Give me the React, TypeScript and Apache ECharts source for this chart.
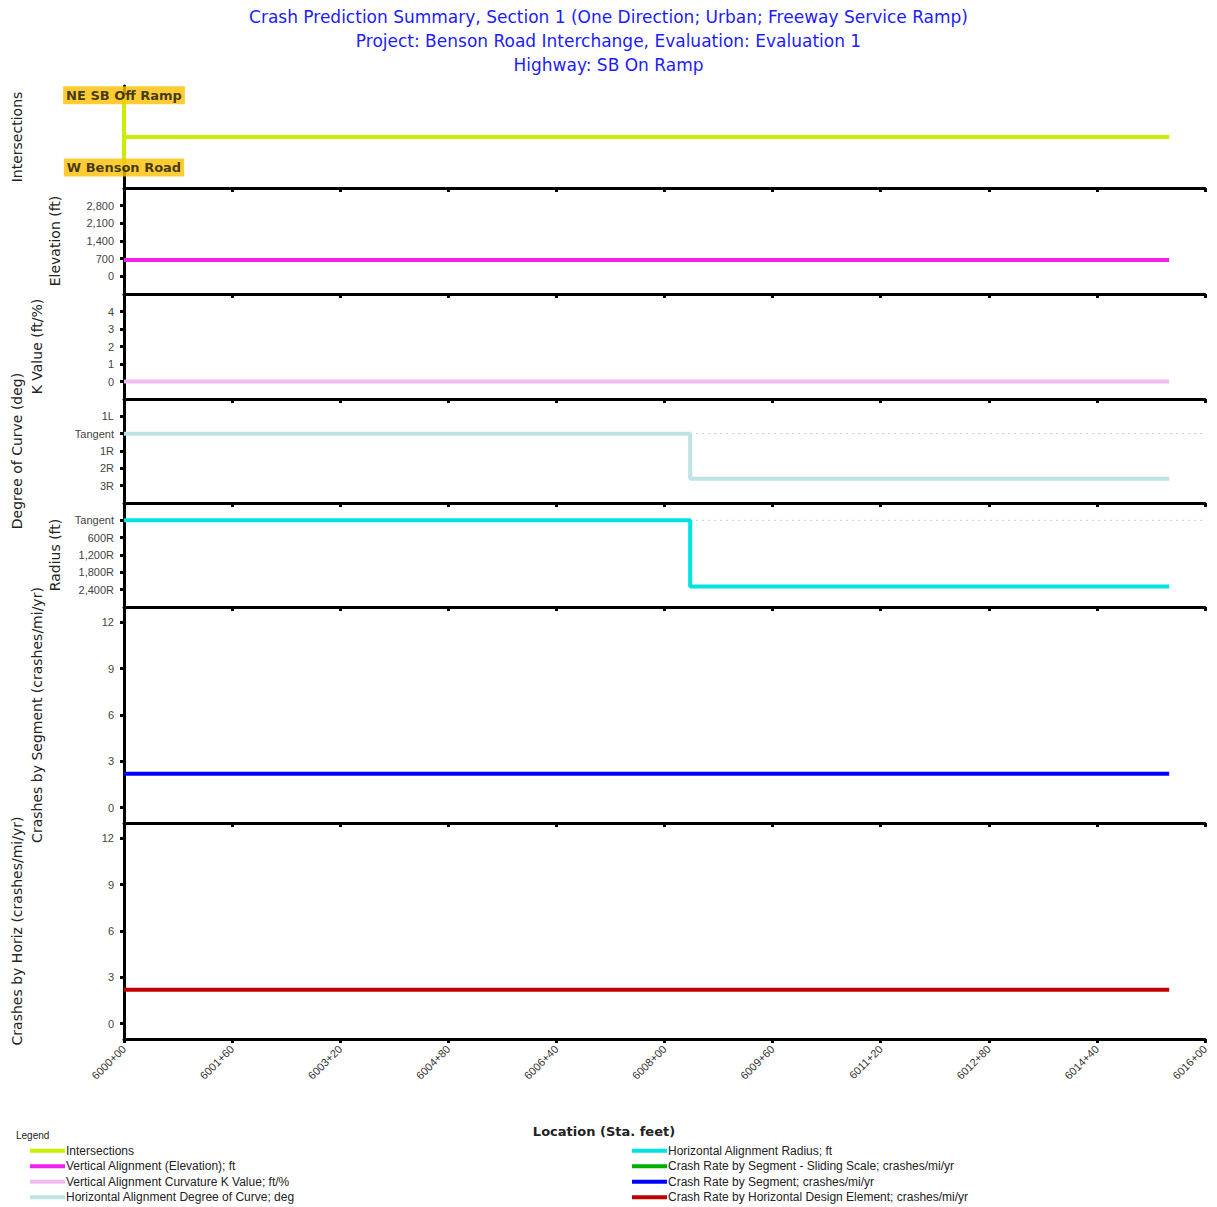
import React, { useEffect, useRef } from "react";
import * as echarts from "echarts";

// ---------- data ----------
const titleLines = [
  "Crash Prediction Summary, Section 1 (One Direction; Urban; Freeway Service Ramp)",
  "Project: Benson Road Interchange, Evaluation: Evaluation 1",
  "Highway: SB On Ramp",
];
const stationLabels = [
  "6000+00", "6001+60", "6003+20", "6004+80", "6006+40", "6008+00",
  "6009+60", "6011+20", "6012+80", "6014+40", "6016+00",
];
const xMax = 1600;
const xStep = 160;

const intersectionNames = ["NE SB Off Ramp", "W Benson Road"];
const intersectionLabelY = [0.91, 0.2];
const intersectionX = [0, 1547];
const intersectionLevel = [0.5, 0.5];

const alignX = [0, 1547];
const elevationFt = [650, 650];
const kValue = [0, 0];

const curveX = [0, 838, 838, 1547];
const degreeOfCurve = [0, 0, -2.6, -2.6]; // + = Left, - = Right
const radiusFt = [0, 0, 2290, 2290]; // 0 = Tangent
const tangentRefX = [838, 1600];

const crashSegX = [0, 1547];
const crashBySegment = [2.2, 2.2];
const crashSlidingScale: number[] = [];
const crashByHoriz = [2.2, 2.2];

const elevTicks = [0, 700, 1400, 2100, 2800];
const kTicks = [0, 1, 2, 3, 4];
const degTicks = [1, 0, -1, -2, -3];
const radTicks = [0, 600, 1200, 1800, 2400];
const crashTicks = [0, 3, 6, 9, 12];

const names = {
  inter: "Intersections",
  elev: "Vertical Alignment (Elevation); ft",
  k: "Vertical Alignment Curvature K Value; ft/%",
  deg: "Horizontal Alignment Degree of Curve; deg",
  rad: "Horizontal Alignment Radius; ft",
  slide: "Crash Rate by Segment - Sliding Scale; crashes/mi/yr",
  seg: "Crash Rate by Segment; crashes/mi/yr",
  horiz: "Crash Rate by Horizontal Design Element; crashes/mi/yr",
};

const colors = {
  inter: "#c6f000",
  elev: "#f020f0",
  k: "#f0bcf0",
  deg: "#bfe3e3",
  rad: "#00e3e3",
  slide: "#00b000",
  seg: "#0000ff",
  horiz: "#c00000",
};

const zip = (xs: number[], ys: number[]) => xs.map((x, i) => [x, ys[i]]);
const fmtNum = (v: number) => Math.round(v).toLocaleString("en-US");

export default function App() {
  const ref = useRef<HTMLDivElement>(null);

  useEffect(() => {
    if (!ref.current) return;
    const chart = echarts.init(ref.current, undefined, { renderer: "svg" });
    const FONT = "Liberation Sans, Arial, sans-serif";
    const WIDE = "DejaVu Sans, sans-serif";

    const panels = [
      { top: 86, height: 102 },
      { top: 188, height: 106 },
      { top: 294, height: 105 },
      { top: 399, height: 104 },
      { top: 503, height: 104 },
      { top: 607, height: 216 },
      { top: 823, height: 216 },
    ];
    const grids = panels.map((p) => ({
      left: 124,
      right: 12,
      top: p.top,
      height: p.height,
      containLabel: false,
      outerBoundsMode: "none",
    }));

    const xAxes = panels.map((_, i) => ({
      type: "value",
      gridIndex: i,
      position: "bottom",
      min: 0,
      max: xMax,
      interval: xStep,
      axisLine: { show: true, onZero: false, lineStyle: { color: "#000", width: 3 } },
      axisTick: { show: true, length: 4, lineStyle: { color: "#000", width: 3 } },
      splitLine: { show: false },
      axisLabel:
        i === panels.length - 1
          ? {
              show: true,
              rotate: 45,
              fontSize: 11,
              color: "#333",
              margin: 8,
              showMaxLabel: true,
              showMinLabel: true,
              formatter: (v: number) => stationLabels[Math.round(v / xStep)] ?? "",
            }
          : { show: false },
    }));

    const yBase = (i: number, name: string, gap: number) => ({
      type: "value",
      gridIndex: i,
      name,
      nameLocation: "middle",
      nameGap: gap,
      nameTextStyle: { fontSize: 14, color: "#222", fontFamily: WIDE },
      axisLine: { show: true, onZero: false, lineStyle: { color: "#000", width: 3 } },
      axisTick: { show: true, length: 4, lineStyle: { color: "#000", width: 3 } },
      splitLine: { show: false },
    });
    const lbl = { fontSize: 11, color: "#444", margin: 10 };
    const tick = (vals: number[]) => ({
      show: true,
      length: 4,
      customValues: vals,
      lineStyle: { color: "#000", width: 3 },
    });

    const yAxes = [
      {
        ...yBase(0, "Intersections", 100),
        min: 0,
        max: 1,
        axisTick: { show: false },
        axisLabel: { show: false },
      },
      {
        ...yBase(1, "Elevation (ft)", 62),
        min: -700,
        max: 3500,
        interval: 700,
        axisTick: tick(elevTicks),
        axisLabel: { ...lbl, customValues: elevTicks, formatter: (v: number) => fmtNum(v) },
      },
      {
        ...yBase(2, "K Value (ft/%)", 80),
        min: -1,
        max: 5,
        interval: 1,
        axisTick: tick(kTicks),
        axisLabel: { ...lbl, customValues: kTicks },
      },
      {
        ...yBase(3, "Degree of Curve (deg)", 100),
        min: -4,
        max: 2,
        interval: 1,
        axisTick: tick(degTicks),
        axisLabel: {
          ...lbl,
          customValues: degTicks,
          formatter: (v: number) => (v === 0 ? "Tangent" : v > 0 ? `${v}L` : `${-v}R`),
        },
      },
      {
        ...yBase(4, "Radius (ft)", 62),
        min: -600,
        max: 3000,
        interval: 600,
        inverse: true,
        axisTick: tick(radTicks),
        axisLabel: {
          ...lbl,
          customValues: radTicks,
          formatter: (v: number) => (v === 0 ? "Tangent" : `${fmtNum(v)}R`),
        },
      },
      {
        ...yBase(5, "Crashes by Segment (crashes/mi/yr)", 80),
        min: -1,
        max: 13,
        interval: 1,
        axisTick: tick(crashTicks),
        axisLabel: { ...lbl, customValues: crashTicks },
      },
      {
        ...yBase(6, "Crashes by Horiz (crashes/mi/yr)", 100),
        min: -1,
        max: 13,
        interval: 1,
        axisTick: tick(crashTicks),
        axisLabel: { ...lbl, customValues: crashTicks },
      },
    ];

    const lineSeries = (name: string, idx: number, data: number[][], color: string) => ({
      type: "line",
      name,
      xAxisIndex: idx,
      yAxisIndex: idx,
      data,
      symbol: "none",
      silent: true,
      lineStyle: { color, width: 4 },
      itemStyle: { color },
      z: 3,
    });
    const refLine = (idx: number, y: number) => ({
      type: "line",
      xAxisIndex: idx,
      yAxisIndex: idx,
      data: zip(tangentRefX, [y, y]),
      symbol: "none",
      silent: true,
      lineStyle: { color: "#c8c8c8", width: 1, type: [2, 4] },
      z: 2,
    });

    const series: any[] = [
      lineSeries(names.inter, 0, zip(intersectionX, intersectionLevel), colors.inter),
      lineSeries(names.inter, 0, zip([0, 0], intersectionLabelY), colors.inter),
      {
        type: "scatter",
        xAxisIndex: 0,
        yAxisIndex: 0,
        silent: true,
        clip: false,
        symbolSize: 2,
        itemStyle: { color: "rgba(0,0,0,0)" },
        z: 10,
        data: intersectionNames.map((n, i) => [0, intersectionLabelY[i], n]),
        label: {
          show: true,
          position: "inside",
          formatter: (p: any) => p.data[2],
          backgroundColor: "#ffc000",
          color: "#111",
          fontSize: 13,
          fontWeight: "bold",
          fontFamily: WIDE,
          padding: [3, 3, 2, 3],
        },
      },
      lineSeries(names.elev, 1, zip(alignX, elevationFt), colors.elev),
      lineSeries(names.k, 2, zip(alignX, kValue), colors.k),
      refLine(3, 0),
      lineSeries(names.deg, 3, zip(curveX, degreeOfCurve), colors.deg),
      refLine(4, 0),
      lineSeries(names.rad, 4, zip(curveX, radiusFt), colors.rad),
      lineSeries(names.slide, 5, crashSlidingScale.map((v, i) => [i, v]), colors.slide),
      lineSeries(names.seg, 5, zip(crashSegX, crashBySegment), colors.seg),
      lineSeries(names.horiz, 6, zip(crashSegX, crashByHoriz), colors.horiz),
    ];

    const legendBase = {
      orient: "vertical",
      top: 1144,
      itemWidth: 35,
      itemHeight: 4,
      itemGap: 2,
      icon: "rect",
      padding: 0,
      selectedMode: false,
      textStyle: { fontSize: 12, color: "#222", fontFamily: FONT, lineHeight: 13.5, padding: [0, 0, 0, -4] },
    };

    chart.setOption({
      animation: false,
      backgroundColor: "#fff",
      textStyle: { fontFamily: FONT },
      title: {
        text: titleLines.join("\n"),
        left: "center",
        top: 0,
        textStyle: { fontSize: 17, lineHeight: 24, color: "#1c1cff", fontWeight: "normal", fontFamily: WIDE },
      },
      grid: grids,
      xAxis: xAxes,
      yAxis: yAxes,
      legend: [
        { ...legendBase, left: 30, data: [names.inter, names.elev, names.k, names.deg] },
        { ...legendBase, left: 632, data: [names.rad, names.slide, names.seg, names.horiz] },
      ],
      graphic: [
        {
          type: "text",
          left: 16,
          top: 1130,
          style: { text: "Legend", fontSize: 10, fill: "#222", fontFamily: FONT },
        },
        {
          type: "text",
          x: 604,
          y: 1131,
          style: {
            text: "Location (Sta. feet)",
            fontSize: 13,
            fontWeight: "bold",
            fill: "#222",
            fontFamily: WIDE,
            align: "center",
            verticalAlign: "middle",
          },
        },
      ],
      series,
    });

    return () => chart.dispose();
  }, []);

  return (
    <div
      ref={ref}
      style={{ position: "fixed", left: 0, top: 0, width: 1217, height: 1207, background: "#fff" }}
    />
  );
}
